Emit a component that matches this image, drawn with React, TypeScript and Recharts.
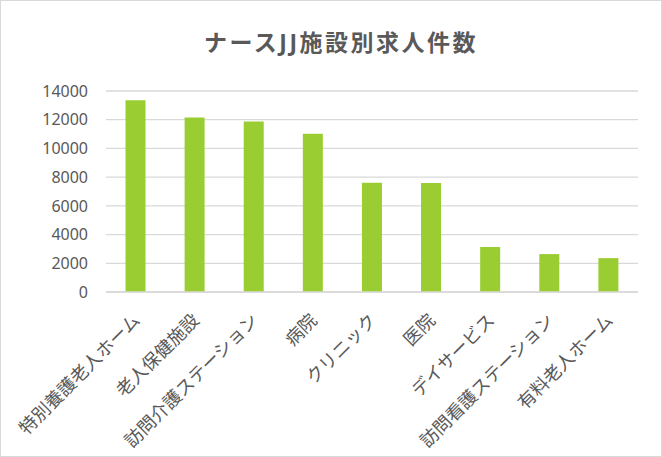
import { BarChart, Bar, XAxis, YAxis, CartesianGrid } from 'recharts';

const categories = [
  '特別養護老人ホーム',
  '老人保健施設',
  '訪問介護ステーション',
  '病院',
  'クリニック',
  '医院',
  'デイサービス',
  '訪問看護ステーション',
  '有料老人ホーム',
];
const jobCounts = [13350, 12150, 11870, 11030, 7610, 7600, 3130, 2640, 2360];
const yTicks = [0, 2000, 4000, 6000, 8000, 10000, 12000, 14000];

const FONT = '"Noto Sans", "Noto Sans CJK JP", sans-serif';
const TEXT = '#595959';

const data = categories.map((name, i) => ({ name, value: jobCounts[i] }));

function AngledTick({ x, y, payload }: { x?: number; y?: number; payload?: { value: string } }) {
  return (
    <g transform={`translate(${(x ?? 0) + 1},${(y ?? 0) + 17})`}>
      <text
        transform="rotate(-45)"
        textAnchor="end"
        dy="0.35em"
        fontSize={18}
        fill={TEXT}
        fontFamily={FONT}
      >
        {payload?.value}
      </text>
    </g>
  );
}

export default function App() {
  return (
    <div
      style={{
        position: 'absolute',
        left: 0,
        top: 0,
        width: 662,
        height: 457,
        background: '#fff',
        boxSizing: 'border-box',
        border: '1px solid #d9d9d9',
        fontFamily: FONT,
      }}
    >
      <div
        style={{
          position: 'absolute',
          left: 0,
          width: 680,
          top: 23,
          textAlign: 'center',
          fontSize: 23,
          letterSpacing: 2.5,
          fontWeight: 'bold',
          color: TEXT,
        }}
      >
        ナースJJ施設別求人件数
      </div>
      <div style={{ position: 'absolute', left: -1, top: -1 }}>
        <BarChart
          width={662}
          height={457}
          data={data}
          margin={{ top: 91, right: 24, left: 0, bottom: 15 }}
          barCategoryGap="33%"
        >
          <CartesianGrid vertical={false} stroke="#d9d9d9" strokeWidth={1.3} />
          <XAxis
            dataKey="name"
            interval={0}
            height={150}
            tickLine={false}
            axisLine={{ stroke: '#d9d9d9', strokeWidth: 1.3 }}
            tick={<AngledTick />}
          />
          <YAxis
            width={106}
            domain={[0, 14000]}
            ticks={yTicks}
            axisLine={false}
            tickLine={false}
            tickMargin={12}
            tick={{ fontSize: 16, fill: TEXT, fontFamily: FONT }}
          />
          <Bar dataKey="value" fill="#9acd32" isAnimationActive={false} />
        </BarChart>
      </div>
    </div>
  );
}
